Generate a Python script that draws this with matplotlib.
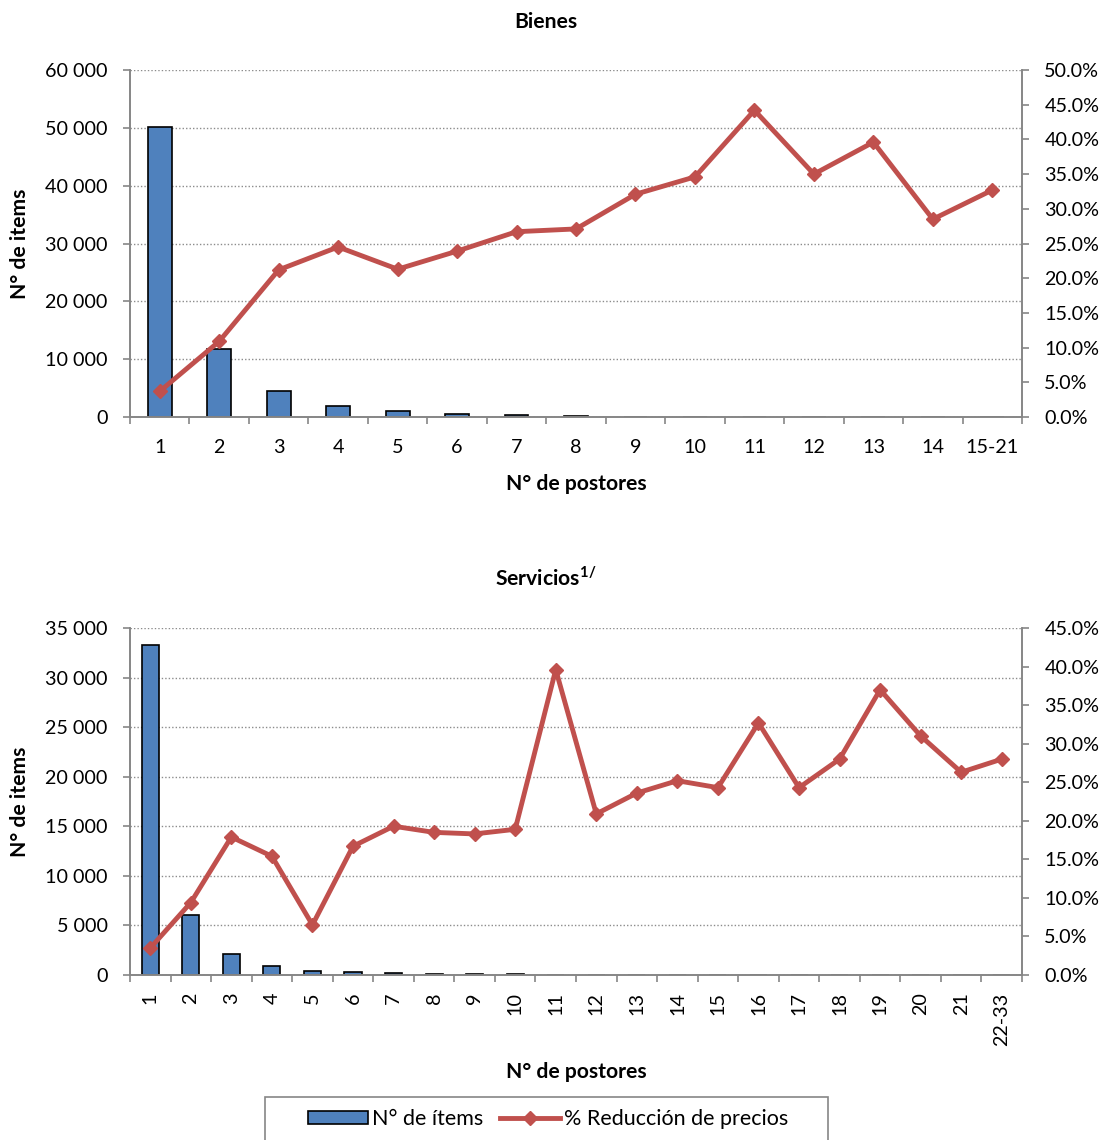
import numpy as np
import matplotlib.pyplot as plt
from matplotlib.ticker import FuncFormatter, FixedLocator
from matplotlib.patches import Patch, Rectangle
from matplotlib.lines import Line2D

plt.rcParams["font.family"] = ["Lato", "DejaVu Sans"]
plt.rcParams["mathtext.fontset"] = "custom"
plt.rcParams["mathtext.rm"] = "Lato"
plt.rcParams["mathtext.bf"] = "Lato:bold"

# === Bienes ===
bienes_cat = ["1", "2", "3", "4", "5", "6", "7", "8", "9", "10", "11", "12", "13", "14", "15-21"]
bienes_items = [50100, 11800, 4500, 1950, 980, 460, 300, 150, 80, 50, 30, 20, 15, 10, 20]
bienes_red = [3.7, 10.9, 21.2, 24.5, 21.3, 23.9, 26.7, 27.1, 32.1, 34.6, 44.2, 35.0, 39.6, 28.5, 32.7]

# === Servicios ===
serv_cat = ["1", "2", "3", "4", "5", "6", "7", "8", "9", "10", "11", "12", "13", "14",
            "15", "16", "17", "18", "19", "20", "21", "22-33"]
serv_items = [33290, 6080, 2120, 870, 440, 270, 160, 100, 80, 60, 50, 30, 25, 20,
              15, 15, 10, 10, 10, 8, 5, 10]
serv_red = [3.5, 9.4, 17.9, 15.4, 6.5, 16.7, 19.3, 18.5, 18.3, 18.9, 39.6, 20.9, 23.6, 25.2,
            24.3, 32.7, 24.3, 28.0, 37.0, 31.0, 26.3, 28.0]

BAR = "#4F81BD"
LINE = "#C0504D"
SPINE = "#868686"
FS = 14.2    # ticks
FSB = 15.2   # títulos y etiquetas


def thousands(v, pos):
    return f"{int(v):,}".replace(",", " ")


def style_spines(a):
    for s in ["left", "bottom", "right"]:
        a.spines[s].set_color(SPINE)
        a.spines[s].set_linewidth(1.2)
    a.spines["top"].set_visible(False)


def draw_panel(ax, cats, items, red, ymax, ystep, pmax, bar_w, rotate, title,
               xpad, xlabpad):
    x = np.arange(len(cats))
    ax.bar(x, items, width=bar_w, color=BAR, edgecolor="black", linewidth=1.2, zorder=2)
    ax.set_xlim(-0.5, len(cats) - 0.5)
    ax.set_ylim(0, ymax)
    ax.set_yticks(np.arange(0, ymax + 1, ystep))
    ax.yaxis.set_major_formatter(FuncFormatter(thousands))
    ax.grid(axis="y", color="#8c8c8c", linestyle=(0, (1, 1.5)), linewidth=1, zorder=0)
    ax.set_axisbelow(True)

    # etiquetas al centro, marcas entre categorías
    ax.set_xticks(x)
    ax.set_xticklabels(cats, rotation=90 if rotate else 0)
    ax.xaxis.set_minor_locator(FixedLocator(np.arange(-0.5, len(cats), 1)))
    ax.tick_params(axis="x", which="major", length=0, pad=xpad, labelsize=FS)
    ax.tick_params(axis="x", which="minor", length=5, color=SPINE, width=1.2)
    ax.tick_params(axis="y", length=5, color=SPINE, width=1.2, labelsize=FS, pad=11)
    style_spines(ax)

    ax.set_ylabel("N° de items", fontsize=FSB, fontweight="bold", labelpad=11)
    ax.set_xlabel("N° de postores", fontsize=FSB, fontweight="bold", labelpad=xlabpad)
    ax.set_title(title, fontsize=FSB, fontweight="bold", pad=30, x=0.466)

    ax2 = ax.twinx()
    ax2.plot(x, red, color=LINE, linewidth=3.5, marker="D", markersize=7.5, zorder=3)
    ax2.set_ylim(0, pmax)
    ax2.set_yticks(np.arange(0, pmax + 0.01, 5))
    ax2.yaxis.set_major_formatter(FuncFormatter(lambda v, p: f"{v:.1f}%"))
    ax2.tick_params(axis="y", length=5, color=SPINE, width=1.2, labelsize=FS, pad=11)
    style_spines(ax2)
    return ax2


fig = plt.figure(figsize=(11.12, 11.4), dpi=100)

ax_top = fig.add_axes([0.1169, 0.6342, 0.8022, 0.3044])
draw_panel(ax_top, bienes_cat, bienes_items, bienes_red, 60000, 10000, 50,
           0.4, False, "Bienes", 16, 13)

ax_bot = fig.add_axes([0.1169, 0.1447, 0.8022, 0.3044])
draw_panel(ax_bot, serv_cat, serv_items, serv_red, 35000, 5000, 45,
           0.42, True, r"Servicios$^{\mathbf{1/}}$", 12.5, 11.5)

# leyenda con marco propio (cortado en el borde inferior)
W, H = 1112, 1140
fig.patches.append(Rectangle((265 / W, -0.01), (828 - 265) / W, 0.01 + (1140 - 1097) / H,
                             transform=fig.transFigure, facecolor="white",
                             edgecolor=SPINE, linewidth=1.2))
handles = [
    Patch(facecolor=BAR, edgecolor="black", linewidth=1.2),
    Line2D([0], [0], color=LINE, linewidth=3.5, marker="D", markersize=7.5),
]
fig.legend(handles, ["N° de ítems", "% Reducción de precios"],
           loc="center", bbox_to_anchor=(548 / W, 1 - 1119 / H), ncol=2,
           fontsize=15.5, frameon=False, handlelength=2.8, handletextpad=0.15,
           columnspacing=0.8, handleheight=0.6)

fig.savefig("out.png", dpi=100)
